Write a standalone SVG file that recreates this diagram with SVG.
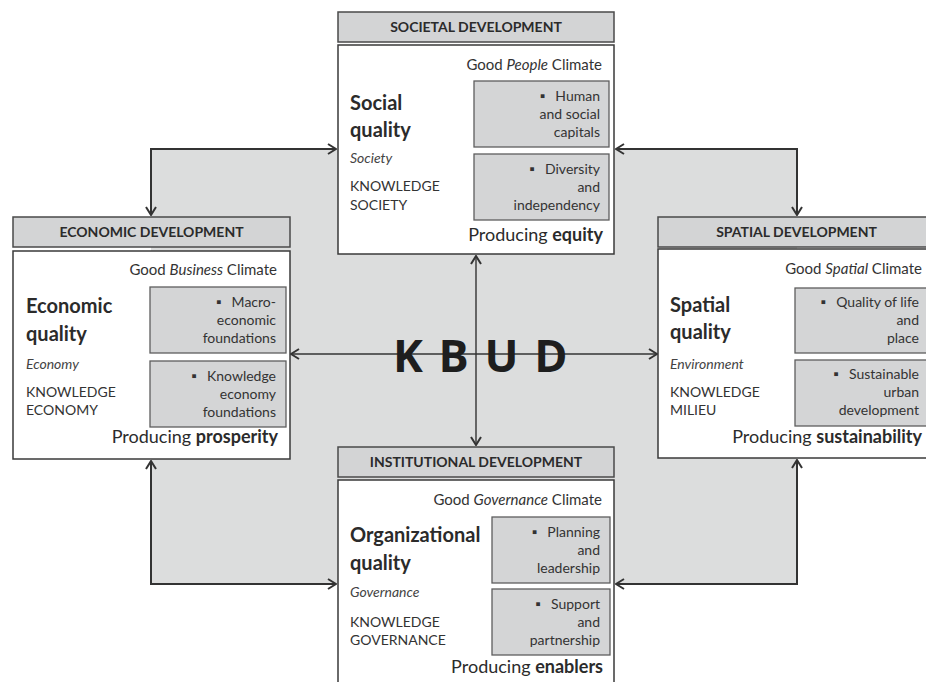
<svg xmlns="http://www.w3.org/2000/svg" width="926" height="682" viewBox="0 0 926 682">
<defs>
<style>
text{font-family:Lato,"Open Sans","Liberation Sans",sans-serif;fill:#2b2b2b}
.hdr{fill:#d3d4d5;stroke:#4a4a4a;stroke-width:1.5}
.body{fill:#ffffff;stroke:#3a3a3a;stroke-width:1.5}
.sub{fill:#d4d5d6;stroke:#5e5e5e;stroke-width:1.3}
.ht{font-size:14px;font-weight:bold;text-anchor:middle}
.clim{font-size:15px;text-anchor:end;fill:#333}
.st{font-size:14px;text-anchor:end;fill:#333}
.q{font-size:20px;font-weight:bold}
.it{font-size:14px;font-style:italic;fill:#444}
.kn{font-size:14px;fill:#333}
.pr{font-size:18px;text-anchor:end}
.con{fill:none;stroke:#333;stroke-width:2}
.thin{fill:none;stroke:#333;stroke-width:1.4}
.kbud{font-family:"Open Sans",Lato,sans-serif;font-size:45px;font-weight:bold;fill:#1e1e1e;letter-spacing:2px}
</style>
<marker id="ah" viewBox="0 0 10 12" refX="9" refY="6" markerWidth="10" markerHeight="12" markerUnits="userSpaceOnUse" orient="auto-start-reverse">
<path d="M1,1 L9,6 L1,11" fill="none" stroke="#333" stroke-width="2"/>
</marker>
</defs>

<rect x="151" y="149" width="646" height="435" fill="#dcdddd"/>

<g id="connectors">
<path class="con" d="M151,215 V149 H336" marker-start="url(#ah)" marker-end="url(#ah)"/>
<path class="con" d="M616,149 H797 V215" marker-start="url(#ah)" marker-end="url(#ah)"/>
<path class="con" d="M151,461 V584 H336" marker-start="url(#ah)" marker-end="url(#ah)"/>
<path class="con" d="M797,460 V584 H616" marker-start="url(#ah)" marker-end="url(#ah)"/>
<path class="thin" d="M291,354 H657" marker-start="url(#ah)" marker-end="url(#ah)"/>
<path class="thin" d="M476,256 V445" marker-start="url(#ah)" marker-end="url(#ah)"/>
</g>

<text class="kbud" x="393" y="372">K B U D</text>

<g id="societal">
<rect class="hdr" x="338" y="12" width="276" height="30"/>
<text class="ht" x="476" y="32">SOCIETAL DEVELOPMENT</text>
<rect class="body" x="338" y="45" width="276" height="209"/>
<text class="clim" x="602" y="70">Good <tspan font-style="italic">People</tspan> Climate</text>
<rect class="sub" x="474" y="81" width="135" height="66"/>
<text class="st" x="600" y="101">▪<tspan dx="10">Human</tspan></text>
<text class="st" x="600" y="119">and social</text>
<text class="st" x="600" y="137">capitals</text>
<rect class="sub" x="474" y="154" width="135" height="66"/>
<text class="st" x="600" y="174">▪<tspan dx="10">Diversity</tspan></text>
<text class="st" x="600" y="192">and</text>
<text class="st" x="600" y="210">independency</text>
<text class="q" x="350" y="110">Social</text>
<text class="q" x="350" y="137">quality</text>
<text class="it" x="350" y="163">Society</text>
<text class="kn" x="350" y="191">KNOWLEDGE</text>
<text class="kn" x="350" y="210">SOCIETY</text>
<text class="pr" x="603" y="241">Producing <tspan font-weight="bold">equity</tspan></text>
</g>

<g id="economic">
<rect class="hdr" x="13" y="217" width="277" height="30"/>
<text class="ht" x="151.5" y="237">ECONOMIC DEVELOPMENT</text>
<rect class="body" x="13" y="251" width="277" height="208"/>
<text class="clim" x="277" y="275">Good <tspan font-style="italic">Business</tspan> Climate</text>
<rect class="sub" x="150" y="287" width="136" height="66"/>
<text class="st" x="276" y="307">▪<tspan dx="10">Macro-</tspan></text>
<text class="st" x="276" y="325">economic</text>
<text class="st" x="276" y="343">foundations</text>
<rect class="sub" x="150" y="361" width="136" height="66"/>
<text class="st" x="276" y="381">▪<tspan dx="10">Knowledge</tspan></text>
<text class="st" x="276" y="399">economy</text>
<text class="st" x="276" y="417">foundations</text>
<text class="q" x="26" y="313">Economic</text>
<text class="q" x="26" y="341">quality</text>
<text class="it" x="26" y="369">Economy</text>
<text class="kn" x="26" y="397">KNOWLEDGE</text>
<text class="kn" x="26" y="415">ECONOMY</text>
<text class="pr" x="278" y="443">Producing <tspan font-weight="bold">prosperity</tspan></text>
</g>

<g id="spatial">
<rect class="hdr" x="658" y="217" width="277" height="30"/>
<text class="ht" x="796.5" y="237">SPATIAL DEVELOPMENT</text>
<rect class="body" x="658" y="249" width="277" height="209"/>
<text class="clim" x="922" y="274">Good <tspan font-style="italic">Spatial</tspan> Climate</text>
<rect class="sub" x="795" y="288" width="136" height="65"/>
<text class="st" x="919" y="307">▪<tspan dx="10">Quality of life</tspan></text>
<text class="st" x="919" y="325">and</text>
<text class="st" x="919" y="343">place</text>
<rect class="sub" x="795" y="360" width="136" height="66"/>
<text class="st" x="919" y="379">▪<tspan dx="10">Sustainable</tspan></text>
<text class="st" x="919" y="397">urban</text>
<text class="st" x="919" y="415">development</text>
<text class="q" x="670" y="312">Spatial</text>
<text class="q" x="670" y="339">quality</text>
<text class="it" x="670" y="369">Environment</text>
<text class="kn" x="670" y="397">KNOWLEDGE</text>
<text class="kn" x="670" y="415">MILIEU</text>
<text class="pr" x="922" y="443">Producing <tspan font-weight="bold">sustainability</tspan></text>
</g>

<g id="institutional">
<rect class="hdr" x="338" y="447" width="276" height="30"/>
<text class="ht" x="476" y="467">INSTITUTIONAL DEVELOPMENT</text>
<rect class="body" x="338" y="480" width="276" height="215"/>
<text class="clim" x="602" y="505">Good <tspan font-style="italic">Governance</tspan> Climate</text>
<rect class="sub" x="492" y="517" width="118" height="66"/>
<text class="st" x="600" y="537">▪<tspan dx="10">Planning</tspan></text>
<text class="st" x="600" y="555">and</text>
<text class="st" x="600" y="573">leadership</text>
<rect class="sub" x="492" y="589" width="118" height="66"/>
<text class="st" x="600" y="609">▪<tspan dx="10">Support</tspan></text>
<text class="st" x="600" y="627">and</text>
<text class="st" x="600" y="645">partnership</text>
<text class="q" x="350" y="542">Organizational</text>
<text class="q" x="350" y="570">quality</text>
<text class="it" x="350" y="597">Governance</text>
<text class="kn" x="350" y="627">KNOWLEDGE</text>
<text class="kn" x="350" y="645">GOVERNANCE</text>
<text class="pr" x="603" y="673">Producing <tspan font-weight="bold">enablers</tspan></text>
</g>
</svg>
